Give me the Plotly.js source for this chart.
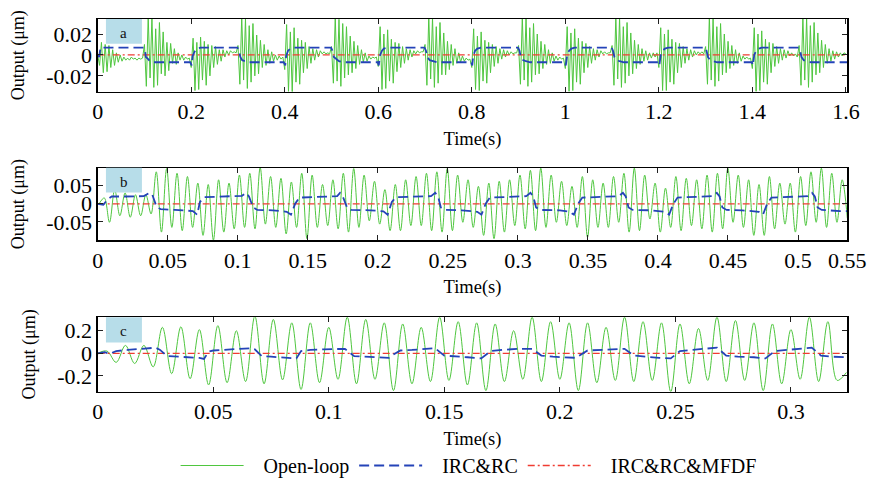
<!DOCTYPE html>
<html><head><meta charset="utf-8">
<script src="https://cdn.plot.ly/plotly-3.0.1.min.js"></script>
<style>html,body{margin:0;padding:0;background:#fff}#chart{width:871px;height:485px}</style>
</head><body><div id="chart"></div>
<script>
// ---------- Panel a : 0 .. 1.6 s ----------
const dtA = 0.004;
const openA = [
 0, -0.01, 0.012, -0.017, 0.01, -0.016, 0.009, -0.012, 0.005, -0.01, 0.002, -0.007, 0.0, -0.006, -0.002, -0.005, -0.003, -0.005, -0.002, -0.004, -0.003, -0.005, -0.003, -0.004, -0.003,
 0.01, -0.03, 0.037, -0.022, 0.036, -0.031, 0.025, -0.029, 0.031, -0.018, 0.022, -0.02, 0.012, -0.015, 0.011, -0.008, 0.006, -0.009, 0.002, -0.005, 0.0, -0.005, -0.002, -0.004, -0.003,
 -0.012, 0.016, -0.034, 0.012, -0.033, 0.017, -0.024, 0.013, -0.029, 0.01, -0.02, 0.009, -0.012, 0.008, -0.009, 0.005, -0.006, 0.005, -0.002, 0.004, 0.0, 0.004, 0.002, 0.003, 0.002,
 0.009, -0.028, 0.037, -0.024, 0.035, -0.032, 0.028, -0.026, 0.03, -0.02, 0.019, -0.018, 0.014, -0.012, 0.01, -0.01, 0.005, -0.008, 0.003, -0.006, 0.0, -0.005, -0.001, -0.004, -0.002,
 -0.014, 0.029, -0.035, 0.022, -0.036, 0.026, -0.026, 0.016, -0.028, 0.014, -0.017, 0.012, -0.013, 0.008, -0.008, 0.006, -0.005, 0.005, -0.002, 0.004, 0.001, 0.003, 0.001, 0.002, 0.001,
 0.008, -0.027, 0.037, -0.025, 0.034, -0.03, 0.03, -0.022, 0.027, -0.019, 0.018, -0.017, 0.013, -0.013, 0.009, -0.009, 0.005, -0.007, 0.002, -0.006, -0.001, -0.004, -0.002, -0.003, -0.002,
 -0.011, 0.027, -0.033, 0.02, -0.032, 0.024, -0.025, 0.015, -0.027, 0.012, -0.016, 0.011, -0.012, 0.008, -0.008, 0.006, -0.005, 0.005, -0.002, 0.004, 0.001, 0.004, 0.002, 0.003, 0.003,
 0.01, -0.029, 0.037, -0.023, 0.036, -0.031, 0.027, -0.027, 0.031, -0.019, 0.021, -0.019, 0.013, -0.014, 0.01, -0.01, 0.006, -0.008, 0.002, -0.007, -0.001, -0.006, -0.003, -0.005, -0.004,
 -0.012, 0.025, -0.033, 0.018, -0.034, 0.022, -0.025, 0.014, -0.027, 0.012, -0.017, 0.01, -0.011, 0.008, -0.008, 0.006, -0.004, 0.005, -0.002, 0.004, 0.0, 0.003, 0.001, 0.002, 0.002,
 0.009, -0.028, 0.037, -0.024, 0.036, -0.03, 0.026, -0.026, 0.03, -0.019, 0.02, -0.018, 0.013, -0.013, 0.01, -0.009, 0.005, -0.008, 0.002, -0.006, -0.001, -0.005, -0.002, -0.004, -0.003,
 -0.013, 0.027, -0.035, 0.021, -0.034, 0.025, -0.026, 0.016, -0.028, 0.013, -0.017, 0.011, -0.012, 0.008, -0.008, 0.006, -0.005, 0.005, -0.002, 0.004, 0.001, 0.003, 0.001, 0.002, 0.002,
 0.009, -0.029, 0.037, -0.023, 0.036, -0.031, 0.027, -0.027, 0.031, -0.02, 0.021, -0.018, 0.014, -0.013, 0.01, -0.009, 0.006, -0.006, 0.004, -0.005, 0.002, -0.003, 0.002, -0.002, 0.002,
 -0.012, 0.026, -0.034, 0.02, -0.034, 0.024, -0.026, 0.015, -0.028, 0.012, -0.017, 0.011, -0.012, 0.008, -0.008, 0.006, -0.005, 0.005, -0.002, 0.004, 0.0, 0.003, 0.001, 0.003, 0.001,
 0.008, -0.028, 0.037, -0.024, 0.035, -0.03, 0.027, -0.025, 0.03, -0.019, 0.02, -0.017, 0.013, -0.013, 0.009, -0.01, 0.005, -0.008, 0.002, -0.006, -0.001, -0.004, -0.002, -0.004, -0.003,
 -0.013, 0.026, -0.035, 0.02, -0.034, 0.023, -0.026, 0.015, -0.028, 0.012, -0.017, 0.011, -0.011, 0.008, -0.008, 0.006, -0.005, 0.005, -0.003, 0.004, -0.001, 0.002, -0.001, 0.001, -0.002,
 0.009, -0.029, 0.037, -0.024, 0.036, -0.031, 0.028, -0.026, 0.031, -0.019, 0.021, -0.017, 0.014, -0.012, 0.01, -0.008, 0.006, -0.006, 0.004, -0.004, 0.003, -0.002, 0.002, -0.001, 0.002,
 0.001
];
const ircA_t = [0,0.003,0.006,0.098,0.101,0.103,0.108,0.112,0.12,0.198,0.201,0.203,0.207,0.211,0.22,
 0.299,0.302,0.305,0.309,0.314,0.322,0.398,0.401,0.403,0.407,0.412,0.42,
 0.499,0.502,0.505,0.51,0.516,0.525,0.599,0.601,0.604,0.608,0.612,0.62,
 0.699,0.702,0.705,0.71,0.716,0.725,0.799,0.801,0.803,0.807,0.812,0.82,
 0.899,0.902,0.905,0.91,0.916,0.925,0.999,1.001,1.004,1.008,1.013,1.02,
 1.099,1.102,1.105,1.11,1.116,1.125,1.199,1.201,1.204,1.208,1.213,1.22,
 1.299,1.302,1.305,1.31,1.316,1.325,1.399,1.401,1.404,1.408,1.413,1.42,
 1.499,1.502,1.505,1.51,1.516,1.525,1.603];
const ircA_y = [0,-0.002,0.007,0.007,0.005,-0.002,-0.004,-0.006,-0.007,-0.007,-0.01,-0.001,0.003,0.006,0.007,
 0.007,0.004,-0.002,-0.005,-0.006,-0.007,-0.007,-0.01,-0.001,0.004,0.006,0.007,
 0.007,0.004,-0.002,-0.004,-0.006,-0.007,-0.007,-0.01,0.0,0.004,0.006,0.007,
 0.007,0.004,-0.002,-0.005,-0.006,-0.007,-0.007,-0.01,-0.001,0.004,0.006,0.007,
 0.007,0.004,-0.002,-0.005,-0.006,-0.007,-0.007,-0.01,0.0,0.004,0.006,0.007,
 0.007,0.004,-0.002,-0.005,-0.006,-0.007,-0.007,-0.01,0.0,0.004,0.006,0.007,
 0.007,0.004,-0.002,-0.005,-0.006,-0.007,-0.007,-0.01,0.0,0.004,0.006,0.007,
 0.007,0.004,-0.002,-0.005,-0.006,-0.007,-0.007];
const mfdfA_t = [0, 0.4, 0.8, 1.2, 1.603];
const mfdfA_y = [0, 0, 0, 0, 0];

// ---------- Panel b : 0 .. 0.535 s ----------
const t0B = 0.001, dtB = 0.00371;
const openB = [
 0, 0.016, -0.051, 0.039, -0.033, 0.03, -0.037, 0.025, -0.033, 0.025, -0.028, 0.088, -0.078,
 0.097, -0.065, 0.084, -0.074, 0.075, -0.065, 0.057, -0.087, 0.053, -0.1, 0.066, -0.078, 0.057, -0.069, 0.079, -0.065, 0.084, -0.069,
 0.1, -0.056, 0.075, -0.065, 0.07, -0.083, 0.06, -0.065, 0.084, -0.096, 0.079, -0.065, 0.053, -0.06, 0.066, -0.069, 0.084, -0.078,
 0.097, -0.065, 0.079, -0.047, 0.062, -0.056, 0.039, -0.074, 0.053, -0.074, 0.066, -0.06, 0.075, -0.06, 0.084, -0.074, 0.088, -0.078,
 0.097, -0.074, 0.079, -0.051, 0.066, -0.065, 0.048, -0.087, 0.057, -0.096, 0.062, -0.078, 0.066, -0.06, 0.079, -0.069, 0.092, -0.074,
 0.098, -0.065, 0.079, -0.051, 0.062, -0.06, 0.048, -0.065, 0.075, -0.092, 0.066, -0.065, 0.057, -0.065, 0.075, -0.051, 0.084, -0.078,
 0.098, -0.074, 0.079, -0.042, 0.057, -0.078, 0.043, -0.065, 0.075, -0.074, 0.07, -0.06, 0.066, -0.069, 0.079, -0.078, 0.084, -0.069,
 0.098, -0.051, 0.079, -0.065, 0.066, -0.087, 0.053, -0.087, 0.075, -0.069, 0.057, -0.056, 0.057, -0.078, 0.075, -0.06, 0.088, -0.051,
 0.098, -0.065, 0.084, -0.051, 0.066, -0.04
];
const ircB_t = [0,0.004,0.007,0.010,0.02,0.033,0.037,0.039,0.042,0.045,0.055,0.068,0.071,0.073,0.076,0.09,0.103,0.106,0.108,
 0.111,0.114,0.125,0.135,0.138,0.141,0.144,0.16,0.171,0.173,0.175,0.178,0.181,0.195,0.204,0.207,0.210,0.213,
 0.225,0.238,0.241,0.243,0.245,0.248,0.26,0.271,0.274,0.277,0.280,0.295,0.306,0.309,0.311,0.313,0.316,
 0.33,0.337,0.340,0.343,0.346,0.36,0.372,0.375,0.377,0.379,0.382,0.395,0.405,0.408,0.411,0.414,
 0.43,0.439,0.442,0.444,0.446,0.449,0.46,0.472,0.475,0.478,0.481,0.495,0.507,0.510,0.512,0.514,0.517,0.53,0.5352];
const ircB_y = [0,-0.003,0.012,0.02,0.02,0.021,0.03,0.025,-0.008,-0.015,-0.017,-0.02,-0.03,0.005,0.018,0.02,0.022,0.03,0.02,
 -0.01,-0.017,-0.018,-0.022,-0.03,0.0,0.017,0.02,0.021,0.03,0.02,-0.01,-0.017,-0.018,-0.021,-0.03,0.005,0.018,
 0.02,0.021,0.03,0.02,-0.01,-0.017,-0.018,-0.022,-0.03,0.0,0.017,0.02,0.021,0.03,0.02,-0.01,-0.017,
 -0.018,-0.022,-0.03,0.0,0.017,0.02,0.021,0.03,0.02,-0.01,-0.017,-0.018,-0.022,-0.03,0.0,0.017,
 0.02,0.021,0.03,0.02,-0.01,-0.017,-0.018,-0.022,-0.03,0.0,0.017,0.02,0.021,0.03,0.02,-0.01,-0.017,-0.02,-0.02];
const mfdfB_t = [0, 0.15, 0.3, 0.45, 0.5352];
const mfdfB_y = [0, 0, 0, 0, 0];

// ---------- Panel c : 0 .. 0.324 s ----------
const dtC = 0.004;
const openC = [
 0, 0.02, -0.08, 0.07, -0.09, 0.07, -0.12, 0.23, -0.18, 0.235, -0.225, 0.21, -0.28, 0.245, -0.26, 0.2, -0.25,
 0.33, -0.27, 0.3, -0.235, 0.27, -0.32, 0.27, -0.26, 0.23, -0.23,
 0.32, -0.27, 0.3, -0.23, 0.27, -0.33, 0.26, -0.27, 0.23, -0.25,
 0.32, -0.24, 0.28, -0.28, 0.27, -0.33, 0.26, -0.25, 0.2, -0.23,
 0.32, -0.25, 0.28, -0.23, 0.27, -0.33, 0.27, -0.26, 0.23, -0.24,
 0.32, -0.25, 0.28, -0.24, 0.27, -0.34, 0.26, -0.27, 0.22, -0.24,
 0.32, -0.25, 0.29, -0.24, 0.27, -0.33, 0.26, -0.27, 0.21, -0.23,
 0.32, -0.25, 0.28, -0.24, -0.17
];
const ircC_t = [0,0.003,0.005,0.008,0.013,0.02,0.025,0.027,0.030,0.035,0.040,0.044,0.046,0.048,0.050,0.056,0.060,0.066,0.068,
 0.071,0.075,0.082,0.086,0.088,0.092,0.098,0.104,0.107,0.111,0.116,0.122,0.126,0.128,0.131,0.136,0.142,0.146,
 0.150,0.155,0.160,0.166,0.170,0.175,0.182,0.188,0.192,0.197,0.203,0.207,0.212,0.217,0.223,0.228,
 0.232,0.237,0.243,0.248,0.252,0.257,0.263,0.268,0.272,0.277,0.284,0.289,0.293,0.298,0.304,0.309,0.313,0.318,0.3244];
const ircC_y = [0,0.01,-0.005,0.02,0.03,0.04,0.05,0.03,-0.025,-0.03,-0.035,-0.04,-0.05,0.015,0.025,0.03,0.04,0.045,0.035,
 -0.025,-0.03,-0.04,-0.045,0.02,0.03,0.035,0.04,0.04,-0.025,-0.03,-0.035,-0.04,-0.01,0.025,0.03,0.04,0.045,
 -0.02,-0.03,-0.035,-0.045,0.02,0.03,0.04,0.04,-0.02,-0.03,-0.035,-0.04,0.025,0.03,0.04,0.04,
 -0.02,-0.03,-0.04,-0.045,0.02,0.03,0.04,0.05,-0.02,-0.03,-0.035,-0.045,0.02,0.03,0.04,0.05,-0.02,-0.03,-0.035];
const mfdfC_t = [0, 0.1, 0.2, 0.3244];
const mfdfC_y = [0, 0, 0, 0];

// ---------- tick labels ----------
const xTickA = [0,0.2,0.4,0.6,0.8,1,1.2,1.4,1.6];
const xTickB = [0,0.05,0.1,0.15,0.2,0.25,0.3,0.35,0.4,0.45,0.5,0.5352];
const xTickBText = ['0','0.05','0.1','0.15','0.2','0.25','0.3','0.35','0.4','0.45','0.5','0.55'];
const xTickC = [0,0.05,0.1,0.15,0.2,0.25,0.3];
const yTickA = [-0.02,0,0.02], yTickAText = ['-0.02','0','0.02'];
const yTickB = [-0.05,0,0.05], yTickBText = ['-0.05','0','0.05'];
const yTickC = [-0.2,0,0.2], yTickCText = ['-0.2','0','0.2'];
const seriesNames = ['Open-loop','IRC&RC','IRC&RC&MFDF'];
const panelLetters = ['a','b','c'];

// ---------- build ----------
const FONT = 'Liberation Serif, Times New Roman, serif';
const GREEN = '#4fc63f', BLUE = '#2443b8', RED = '#f03c32';
const PAD = '\u00a0\u00a0\u00a0';
const grid = (n, t0, dt) => Array.from({length:n}, (_, i) => t0 + i*dt);

function panel(ax, openX, openY, ircX, ircY, mfX, mfY, spline, legend){
  const xa = ax===1 ? 'x' : 'x'+ax, ya = ax===1 ? 'y' : 'y'+ax;
  return [
    {x:openX, y:openY, xaxis:xa, yaxis:ya, type:'scatter', mode:'lines', name:PAD+seriesNames[0],
     line:{color:GREEN, width:1, shape: spline ? 'spline' : 'linear', smoothing:1}, showlegend:legend, legendrank:1},
    {x:mfX, y:mfY, xaxis:xa, yaxis:ya, type:'scatter', mode:'lines', name:PAD+seriesNames[2],
     line:{color:RED, width:1.3, dash:'7px,3px,2px,3px'}, showlegend:legend, legendrank:3},
    {x:ircX, y:ircY, xaxis:xa, yaxis:ya, type:'scatter', mode:'lines', name:PAD+seriesNames[1],
     line:{color:BLUE, width:1.8, dash:'10px,5px'}, showlegend:legend, legendrank:2}
  ];
}

const data = [
  ...panel(1, grid(openA.length,0,dtA), openA, ircA_t, ircA_y, mfdfA_t, mfdfA_y, false, true),
  ...panel(2, grid(openB.length,t0B,dtB), openB, ircB_t, ircB_y, mfdfB_t, mfdfB_y, true, false),
  ...panel(3, grid(openC.length,0,dtC), openC, ircC_t, ircC_y, mfdfC_t, mfdfC_y, true, false)
];

const xDom = [97.7/871, 847.3/871];
const yDomA = [1-93.3/485, 1-19.3/485], yDomB = [1-245/485, 1-171/485], yDomC = [1-399/485, 1-323.3/485];

const baseAx = {showline:true, linecolor:'#000', linewidth:1.3, mirror:'ticks', ticks:'inside', ticklen:5,
  tickwidth:1, tickcolor:'#222', showgrid:false, zeroline:false,
  tickfont:{family:FONT, size:22, color:'#000'}};
const xt = {text:'Time(s)', font:{family:FONT, size:18.5, color:'#000'}, standoff:8};
const yt = {text:'Output (μm)', font:{family:FONT, size:18, color:'#000'}, standoff:17};

function box(xr, yr){
  return {type:'rect', xref:xr+' domain', yref:yr+' domain', x0:0.011, x1:0.059, y0:0.66, y1:1,
    fillcolor:'#b7dde9', line:{width:0}, layer:'above'};
}
function boxLabel(xr, yr, letter){
  return {xref:xr+' domain', yref:yr+' domain', x:0.035, y:0.81, text:letter, showarrow:false,
    font:{family:FONT, size:15, color:'#111'}, xanchor:'center', yanchor:'middle'};
}

const layout = {
  width:871, height:485, margin:{l:0, r:0, t:0, b:0},
  paper_bgcolor:'#fff', plot_bgcolor:'#fff', font:{family:FONT, color:'#000'},
  xaxis: Object.assign({}, baseAx, {domain:xDom, anchor:'y', range:[0,1.603], tickvals:xTickA, title:xt}),
  yaxis: Object.assign({}, baseAx, {domain:yDomA, anchor:'x', range:[-0.035,0.0344], tickvals:yTickA, ticktext:yTickAText, title:yt}),
  xaxis2: Object.assign({}, baseAx, {domain:xDom, anchor:'y2', range:[0,0.5352], tickvals:xTickB, ticktext:xTickBText, title:xt}),
  yaxis2: Object.assign({}, baseAx, {domain:yDomB, anchor:'x2', range:[-0.101,0.099], tickvals:yTickB, ticktext:yTickBText, title:yt}),
  xaxis3: Object.assign({}, baseAx, {domain:xDom, anchor:'y3', range:[0,0.3244], tickvals:xTickC, title:xt}),
  yaxis3: Object.assign({}, baseAx, {domain:yDomC, anchor:'x3', range:[-0.339,0.319], tickvals:yTickC, ticktext:yTickCText, title:yt}),
  shapes:[box('x','y'), box('x2','y2'), box('x3','y3')],
  annotations:[boxLabel('x','y',panelLetters[0]), boxLabel('x2','y2',panelLetters[1]), boxLabel('x3','y3',panelLetters[2])],
  showlegend:true,
  legend:{orientation:'h', x:0.538, xanchor:'center', y:0.022, yanchor:'middle',
    font:{family:FONT, size:20, color:'#000'}, bgcolor:'rgba(0,0,0,0)', traceorder:'normal', itemwidth:63}
};

Plotly.newPlot('chart', data, layout, {displayModeBar:false, staticPlot:true});
</script></body></html>
